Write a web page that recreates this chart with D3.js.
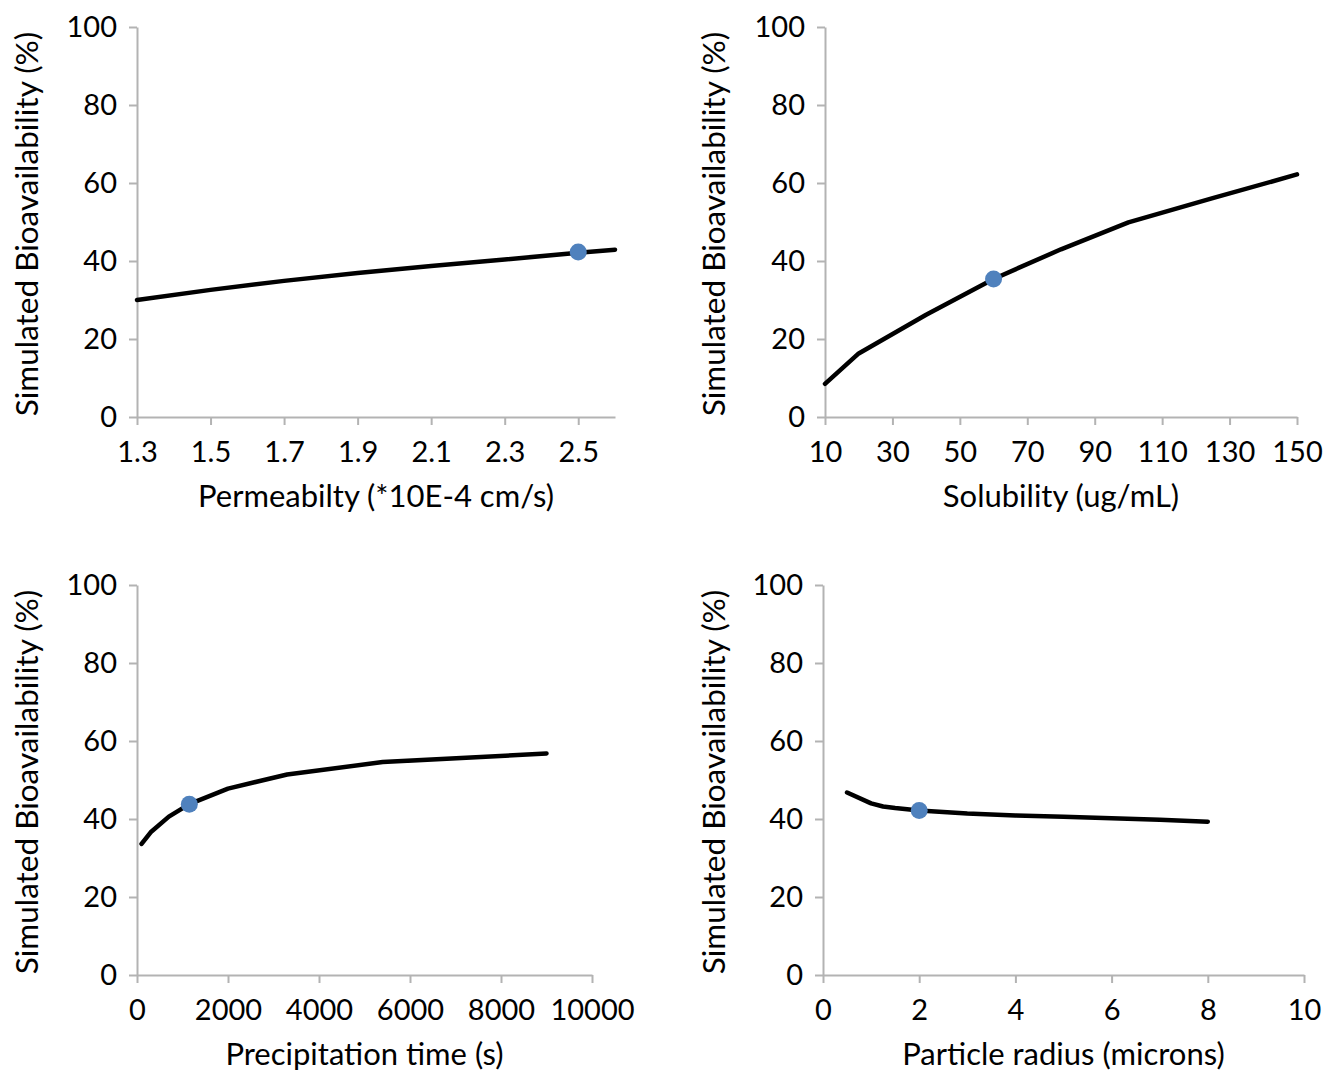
<!DOCTYPE html>
<html>
<head>
<meta charset="utf-8">
<script src="https://cdn.jsdelivr.net/npm/d3@7"></script>
<style>
  body { margin: 0; background: #fff; }
  text { font-family: Lato, "Open Sans", sans-serif; fill: #000; }
</style>
</head>
<body>
<script>
// data
var permX = [1.3, 1.5, 1.7, 1.9, 2.1, 2.3, 2.5, 2.6];
var permY = [30, 32.6, 34.9, 36.9, 38.7, 40.4, 42.1, 42.9];
var permTicks = [1.3, 1.5, 1.7, 1.9, 2.1, 2.3, 2.5];

var solX = [10, 20, 40, 60, 80, 100, 125, 150];
var solY = [8.5, 16.3, 26.2, 35.4, 43, 49.9, 56.1, 62.2];
var solTicks = [10, 30, 50, 70, 90, 110, 130, 150];

var precX = [100, 300, 700, 1150, 2000, 3300, 5400, 9000];
var precY = [33.6, 36.6, 40.6, 43.8, 47.8, 51.4, 54.6, 56.8];
var precTicks = [0, 2000, 4000, 6000, 8000, 10000];

var radX = [0.5, 1, 1.25, 1.5, 2, 3, 4, 5, 6, 7, 8];
var radY = [46.8, 44, 43.2, 42.8, 42.2, 41.4, 40.9, 40.6, 40.2, 39.8, 39.3];
var radTicks = [0, 2, 4, 6, 8, 10];

var yTicks = [0, 20, 40, 60, 80, 100];
var yTitle = 'Simulated Bioavailability (%)';

var panels = [
  { xs: permX, ys: permY, ticks: permTicks, dom: [1.3, 2.6], fmt: d3.format('.1f'),
    title: 'Permeabilty (*10E-4 cm/s)', mark: [2.5, 42.3],
    left: 137, right: 615, top: 27, bottom: 417, titleX: 27 },
  { xs: solX, ys: solY, ticks: solTicks, dom: [10, 150], fmt: d3.format('d'),
    title: 'Solubility (ug/mL)', mark: [60, 35.4],
    left: 825, right: 1297, top: 27, bottom: 417, titleX: 714 },
  { xs: precX, ys: precY, ticks: precTicks, dom: [0, 10000], fmt: d3.format('d'),
    title: 'Precipitation time (s)', mark: [1150, 43.8],
    left: 137, right: 592, top: 585, bottom: 975, titleX: 27 },
  { xs: radX, ys: radY, ticks: radTicks, dom: [0, 10], fmt: d3.format('d'),
    title: 'Particle radius (microns)', mark: [2, 42.2],
    left: 823, right: 1304, top: 585, bottom: 975, titleX: 714 }
];

var svg = d3.select('body')
  .append('svg')
  .attr('width', 1324)
  .attr('height', 1073);

panels.forEach(function(p) {
  var x = d3.scaleLinear().domain(p.dom).range([p.left, p.right]);
  var y = d3.scaleLinear().domain([0, 100]).range([p.bottom, p.top]);

  var g = svg.append('g');

  var ya = g.append('g')
    .attr('transform', 'translate(' + p.left + ',0)')
    .call(d3.axisLeft(y).tickValues(yTicks).tickSize(8).tickSizeOuter(0).tickPadding(12));

  var xa = g.append('g')
    .attr('transform', 'translate(0,' + p.bottom + ')')
    .call(d3.axisBottom(x).tickValues(p.ticks).tickFormat(p.fmt).tickSize(8).tickSizeOuter(0).tickPadding(16));

  [ya, xa].forEach(function(a) {
    a.select('.domain').attr('stroke', '#b3b3b3').attr('stroke-width', 2);
    a.selectAll('.tick line').attr('stroke', '#b3b3b3').attr('stroke-width', 2);
    a.selectAll('.tick text')
      .attr('font-family', 'Lato, sans-serif')
      .attr('font-size', 29)
      .attr('fill', '#000');
  });

  var line = d3.line()
    .x(function(d) { return x(d[0]); })
    .y(function(d) { return y(d[1]); });

  g.append('path')
    .datum(d3.zip(p.xs, p.ys))
    .attr('d', line)
    .attr('fill', 'none')
    .attr('stroke', '#000')
    .attr('stroke-width', 4.5)
    .attr('stroke-linejoin', 'round')
    .attr('stroke-linecap', 'round');

  g.append('circle')
    .attr('cx', x(p.mark[0]))
    .attr('cy', y(p.mark[1]))
    .attr('r', 8.5)
    .attr('fill', '#4f81bd');

  g.append('text')
    .attr('x', (p.left + p.right) / 2)
    .attr('y', p.bottom + 90)
    .attr('text-anchor', 'middle')
    .attr('font-size', 31)
    .text(p.title);

  g.append('text')
    .attr('transform', 'translate(' + (p.titleX + 11) + ',' + ((p.top + p.bottom) / 2 + 2) + ') rotate(-90)')
    .attr('text-anchor', 'middle')
    .attr('font-size', 31.5)
    .text(yTitle);
});
</script>
</body>
</html>
